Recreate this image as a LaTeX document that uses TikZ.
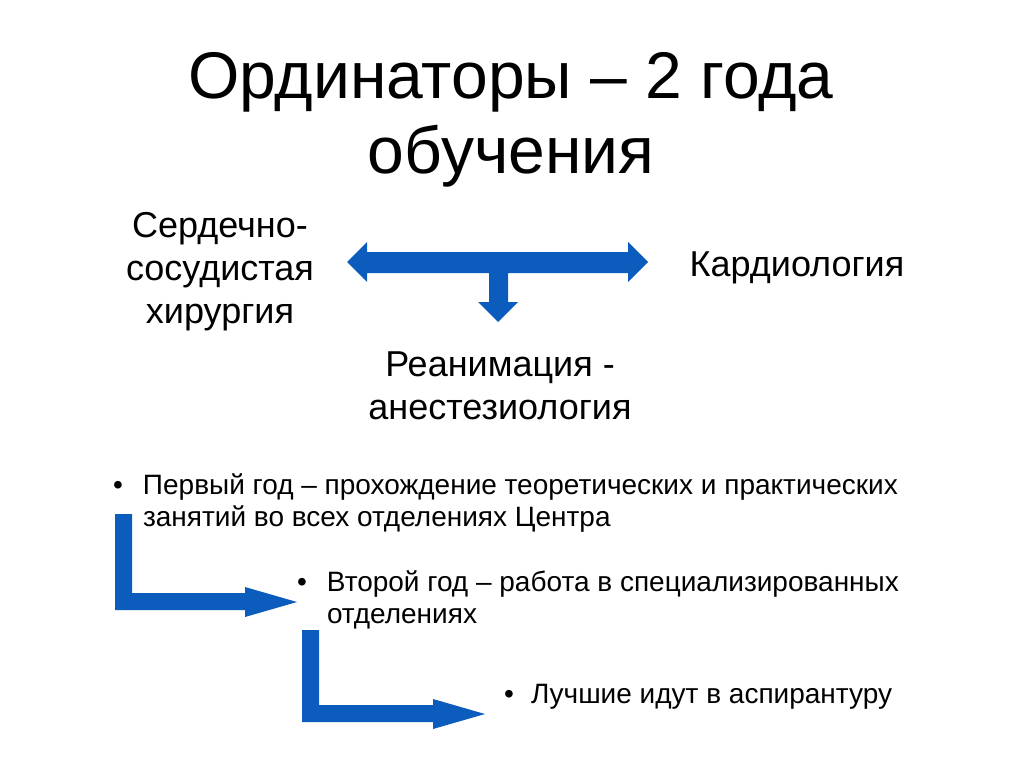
\documentclass[tikz,border=0pt]{standalone}
\usepackage{fontspec}
\setmainfont{Liberation Sans}
\begin{document}
\begin{tikzpicture}[x=1pt,y=-1pt,
  arr/.style={fill={rgb,255:red,12;green,92;blue,190}},
  lbl/.style={align=center,font=\fontsize{36}{43}\selectfont,inner sep=0},
  bul/.style={align=left,font=\fontsize{28}{32}\selectfont,inner sep=0,anchor=north west}]
\useasboundingbox (0,0) rectangle (1024,768);
\node[align=center,font=\fontsize{66}{75}\selectfont,inner sep=0] (title) at (511,120) {Ординаторы – 2 года\\обучения};
\node[lbl] (cvs) at (220,272) {Сердечно-\\сосудистая\\хирургия};
\node[lbl] (card) at (797,268) {Кардиология};
\node[lbl] (rean) at (500,386) {Реанимация -\\анестезиология};
\node[bul] (b1) at (113,474) {•\hspace{20pt}\parbox[t]{800pt}{Первый год – прохождение теоретических и практических\\занятий во всех отделениях Центра}};
\node[bul] (b2) at (297,571) {•\hspace{20pt}\parbox[t]{650pt}{Второй год – работа в специализированных\\отделениях}};
\node[bul] (b3) at (504,684) {•\hspace{17pt}Лучшие идут в аспирантуру};
% T arrow
\fill[arr] (347,262) -- (367,242) -- (367,252) -- (628,252) -- (628,242) -- (648,262) -- (628,282) -- (628,273) -- (508,273) -- (508,302) -- (518,302) -- (498,322) -- (478,302) -- (489,302) -- (489,273) -- (367,273) -- (367,282) -- cycle;
% bent arrows
\fill[arr] (115,514) -- (132,514) -- (132,593) -- (245,593) -- (245,587) -- (297,602) -- (245,617) -- (245,610) -- (115,610) -- cycle;
\fill[arr] (302,630) -- (319,630) -- (319,705) -- (433,705) -- (433,699) -- (485,714) -- (433,729) -- (433,722) -- (302,722) -- cycle;
\end{tikzpicture}
\end{document}
